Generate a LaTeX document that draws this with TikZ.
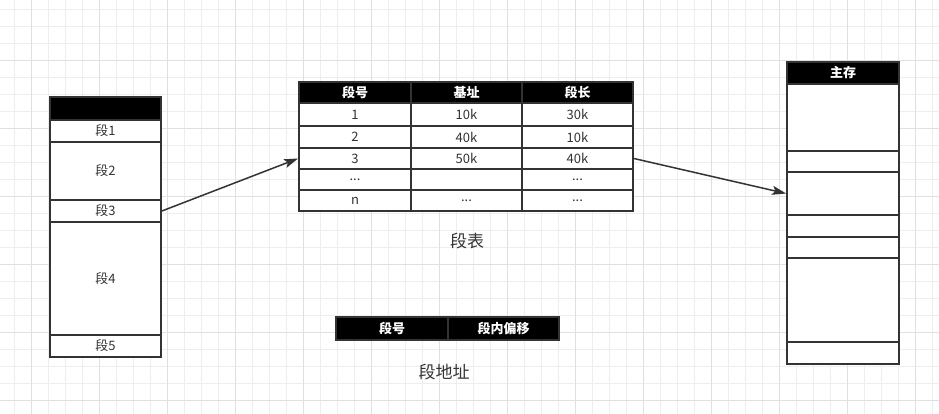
\documentclass[tikz,border=0pt]{standalone}
\usepackage{fontspec}
\setmainfont{Noto Sans CJK SC}
\usetikzlibrary{arrows.meta}
\definecolor{bd}{RGB}{51,51,51}
\definecolor{gminor}{RGB}{238,238,238}
\definecolor{gmajor}{RGB}{224,224,224}
\tikzset{
  minorline/.style={draw=gminor, line width=0.9pt},
  majorline/.style={draw=gmajor, line width=0.9pt},
  cell/.style={draw=bd, line width=1.8pt, fill=white, text=bd, inner sep=0pt,
    font=\fontsize{13}{15}\selectfont},
  hdr/.style={cell, fill=black, text=white, font=\fontsize{13}{15}\selectfont\bfseries},
  lbl/.style={text=bd, inner sep=0pt, font=\fontsize{17}{19}\selectfont},
  arr/.style={draw=bd, line width=1.5pt, -{Stealth[length=14pt,width=9pt,inset=3pt]}},
}
\begin{document}
\begin{tikzpicture}[x=1pt,y=-1pt]
\useasboundingbox (0,0) rectangle (939,414);
\fill[white] (0,0) rectangle (939,414);
% grid
\foreach \i in {0,...,56} \draw[minorline] ({-2.3+17*\i},0) -- ({-2.3+17*\i},414);
\foreach \j in {0,...,25} \draw[minorline] (0,{-7.3+17*\j}) -- (939,{-7.3+17*\j});
\foreach \i in {0,...,13} \draw[majorline] ({31.7+68*\i},0) -- ({31.7+68*\i},414);
\foreach \j in {0,...,6} \draw[majorline] (0,{-7.3+68*\j}) -- (939,{-7.3+68*\j});
% cut-off text at top
\node[text=bd, font=\fontsize{13}{15}\selectfont] (topdots) at (393,-4) {...};
% left column
\node[hdr, minimum width=111pt, minimum height=23pt] (lh) at (105.5,108.5) {};
\node[cell, minimum width=111pt, minimum height=22pt] (l1) at (105.5,131) {段1};
\node[cell, minimum width=111pt, minimum height=58pt] (l2) at (105.5,171) {段2};
\node[cell, minimum width=111pt, minimum height=22pt] (l3) at (105.5,211) {段3};
\node[cell, minimum width=111pt, minimum height=113pt] (l4) at (105.5,278.5) {段4};
\node[cell, minimum width=111pt, minimum height=22pt] (l5) at (105.5,346) {段5};
% segment table
\node[hdr, minimum width=112pt, minimum height=21pt] (t01) at (355,92.5) {段号};
\node[hdr, minimum width=111pt, minimum height=21pt] (t02) at (466.5,92.5) {基址};
\node[hdr, minimum width=111pt, minimum height=21pt] (t03) at (577.5,92.5) {段长};
\node[cell, minimum width=112pt, minimum height=23pt] (t11) at (355,114.5) {1};
\node[cell, minimum width=111pt, minimum height=23pt] (t12) at (466.5,114.5) {10k};
\node[cell, minimum width=111pt, minimum height=23pt] (t13) at (577.5,114.5) {30k};
\node[cell, minimum width=112pt, minimum height=22pt] (t21) at (355,137) {2};
\node[cell, minimum width=111pt, minimum height=22pt] (t22) at (466.5,137) {40k};
\node[cell, minimum width=111pt, minimum height=22pt] (t23) at (577.5,137) {10k};
\node[cell, minimum width=112pt, minimum height=21pt] (t31) at (355,158.5) {3};
\node[cell, minimum width=111pt, minimum height=21pt] (t32) at (466.5,158.5) {50k};
\node[cell, minimum width=111pt, minimum height=21pt] (t33) at (577.5,158.5) {40k};
\node[cell, minimum width=112pt, minimum height=21pt] (t41) at (355,179.5) {...};
\node[cell, minimum width=111pt, minimum height=21pt] (t42) at (466.5,179.5) {};
\node[cell, minimum width=111pt, minimum height=21pt] (t43) at (577.5,179.5) {...};
\node[cell, minimum width=112pt, minimum height=21pt] (t51) at (355,200.5) {n};
\node[cell, minimum width=111pt, minimum height=21pt] (t52) at (466.5,200.5) {...};
\node[cell, minimum width=111pt, minimum height=21pt] (t53) at (577.5,200.5) {...};
\node[lbl] (tlabel) at (467,241) {段表};
% segment address
\node[hdr, minimum width=112pt, minimum height=23pt] (a1) at (392,328.5) {段号};
\node[hdr, minimum width=111pt, minimum height=23pt] (a2) at (503.5,328.5) {段内偏移};
\node[lbl] (alabel) at (444,372) {段地址};
% main memory
\node[hdr, minimum width=112pt, minimum height=22pt] (mh) at (843,73) {主存};
\node[cell, minimum width=112pt, minimum height=67pt] (m1) at (843,117.5) {};
\node[cell, minimum width=112pt, minimum height=21pt] (m2) at (843,161.5) {};
\node[cell, minimum width=112pt, minimum height=43pt] (m3) at (843,193.5) {};
\node[cell, minimum width=112pt, minimum height=22pt] (m4) at (843,226) {};
\node[cell, minimum width=112pt, minimum height=21pt] (m5) at (843,247.5) {};
\node[cell, minimum width=112pt, minimum height=84pt] (m6) at (843,300) {};
\node[cell, minimum width=112pt, minimum height=22pt] (m7) at (843,353) {};
% arrows
\draw[arr] (l3.east) -- (t31.west);
\draw[arr] (t33.east) -- (m3.west);
\end{tikzpicture}
\end{document}
